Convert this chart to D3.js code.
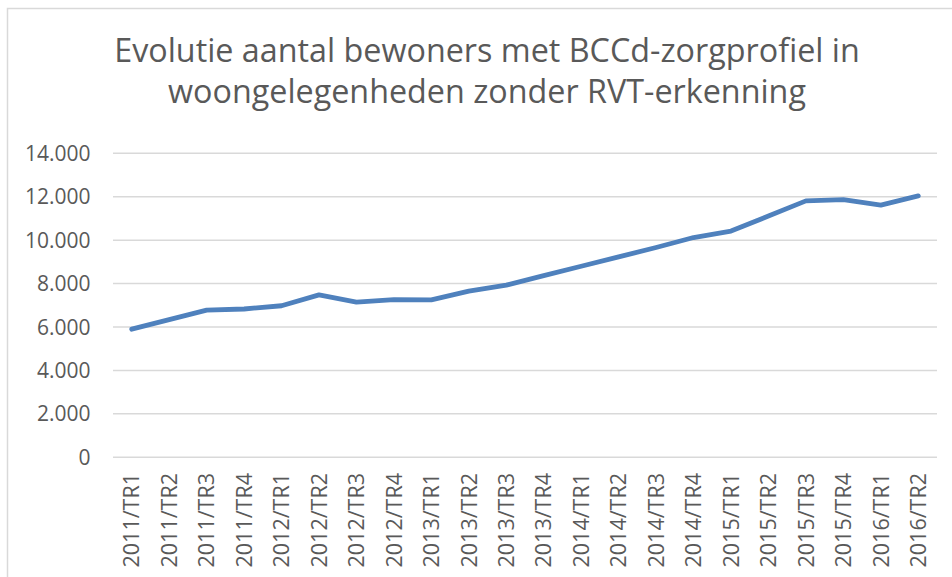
<!DOCTYPE html>
<html>
<head>
<meta charset="utf-8">
<script src="https://cdn.jsdelivr.net/npm/d3@7"></script>
<style>
  html, body { margin: 0; padding: 0; background: #fff; }
  svg { display: block; }
  text { font-family: "Open Sans", sans-serif; fill: #595959; }
</style>
</head>
<body>
<svg id="chart" width="952" height="577"></svg>
<script>
const titleLines = ["Evolutie aantal bewoners met BCCd-zorgprofiel in", "woongelegenheden zonder RVT-erkenning"];
const categories = ["2011/TR1","2011/TR2","2011/TR3","2011/TR4","2012/TR1","2012/TR2","2012/TR3","2012/TR4",
  "2013/TR1","2013/TR2","2013/TR3","2013/TR4","2014/TR1","2014/TR2","2014/TR3","2014/TR4",
  "2015/TR1","2015/TR2","2015/TR3","2015/TR4","2016/TR1","2016/TR2"];
const values = [5900, 6340, 6780, 6830, 6980, 7480, 7150, 7260, 7250, 7650, 7930, 8370,
  8800, 9230, 9660, 10120, 10420, 11110, 11810, 11870, 11610, 12040];
const yTicks = [0, 2000, 4000, 6000, 8000, 10000, 12000, 14000];

const svg = d3.select("#chart");
const W = 952, H = 577;
const plot = { left: 113, right: 937, top: 153.3, bottom: 457.3 };

// chart frame
svg.append("rect")
  .attr("x", 7.5).attr("y", 8.5).attr("width", W + 10).attr("height", H + 10)
  .attr("fill", "#fff").attr("stroke", "#d9d9d9").attr("stroke-width", 1.5);

// title (font size fitted to the reference's line width)
const titleY = [62, 103];
const titleTarget = 746;
const t1 = svg.append("text").attr("x", 487).attr("y", titleY[0]).attr("text-anchor", "middle")
  .style("font-size", "30px").text(titleLines[0]);
const len = t1.node().getComputedTextLength();
const fs = 30 * titleTarget / len;
t1.style("font-size", fs + "px");
svg.append("text").attr("x", 487).attr("y", titleY[1]).attr("text-anchor", "middle")
  .style("font-size", fs + "px").text(titleLines[1]);

const x = d3.scaleBand().domain(categories).range([plot.left, plot.right]);
const y = d3.scaleLinear().domain([0, 14000]).range([plot.bottom, plot.top]);

// gridlines
svg.append("g").selectAll("line").data(yTicks).join("line")
  .attr("x1", plot.left).attr("x2", plot.right)
  .attr("y1", d => y(d)).attr("y2", d => y(d))
  .attr("stroke", "#d9d9d9").attr("stroke-width", 1.5);

// y axis labels
const fmt = d => d3.format(",")(d).replace(/,/g, ".");
svg.append("g").selectAll("text").data(yTicks).join("text")
  .attr("x", 90.5).attr("y", d => y(d)).attr("dy", "0.36em")
  .attr("text-anchor", "end")
  .style("font-size", "21px")
  .text(fmt);

// x axis labels
svg.append("g").selectAll("text").data(categories).join("text")
  .attr("transform", d => `translate(${x(d) + x.bandwidth() / 2},473) rotate(-90)`)
  .attr("text-anchor", "end").attr("dy", "0.36em")
  .style("font-size", "21.5px")
  .text(d => d);

// line
const line = d3.line()
  .x((d, i) => x(categories[i]) + x.bandwidth() / 2)
  .y(d => y(d));
svg.append("path").datum(values)
  .attr("d", line)
  .attr("fill", "none")
  .attr("stroke", "#4f81bd")
  .attr("stroke-width", 4.8)
  .attr("stroke-linejoin", "round")
  .attr("stroke-linecap", "round");
</script>
</body>
</html>
